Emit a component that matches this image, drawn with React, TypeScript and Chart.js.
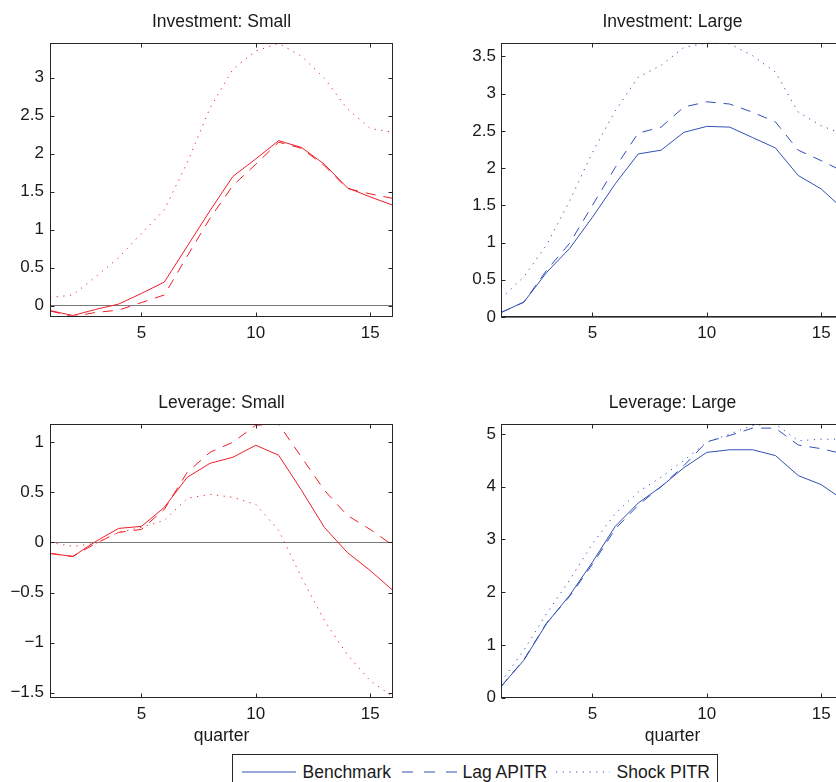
import React, { useEffect, useRef } from "react";
import { Chart, registerables } from "chart.js";

Chart.register(...registerables);

const quarters = [1, 2, 3, 4, 5, 6, 7, 8, 9, 10, 11, 12, 13, 14, 15, 16];
const xTicks = [5, 10, 15];

const invSmallBenchmark = [-0.065, -0.13, -0.05, 0.02, 0.16, 0.31, 0.78, 1.25, 1.7, 1.93, 2.17, 2.08, 1.86, 1.55, 1.43, 1.32];
const invSmallLag = [-0.07, -0.145, -0.09, -0.06, 0.04, 0.14, 0.65, 1.15, 1.58, 1.86, 2.15, 2.07, 1.84, 1.54, 1.47, 1.41];
const invSmallShock = [0.105, 0.14, 0.38, 0.63, 0.95, 1.26, 1.88, 2.6, 3.11, 3.35, 3.45, 3.28, 2.99, 2.59, 2.33, 2.28];

const invLargeBenchmark = [0.06, 0.2, 0.6, 0.92, 1.34, 1.79, 2.19, 2.24, 2.48, 2.56, 2.55, 2.41, 2.27, 1.9, 1.72, 1.44];
const invLargeLag = [0.06, 0.2, 0.63, 0.99, 1.5, 2.01, 2.47, 2.55, 2.82, 2.89, 2.86, 2.75, 2.62, 2.24, 2.1, 1.95];
const invLargeShock = [0.25, 0.54, 0.97, 1.56, 2.21, 2.77, 3.22, 3.38, 3.62, 3.68, 3.67, 3.51, 3.29, 2.75, 2.57, 2.45];

const levSmallBenchmark = [-0.11, -0.14, 0.01, 0.14, 0.16, 0.35, 0.65, 0.79, 0.85, 0.97, 0.87, 0.52, 0.15, -0.1, -0.28, -0.48];
const levSmallLag = [-0.11, -0.14, -0.01, 0.1, 0.13, 0.33, 0.7, 0.9, 1.0, 1.17, 1.18, 0.85, 0.52, 0.27, 0.13, -0.03];
const levSmallShock = [0.0, -0.04, -0.01, 0.1, 0.15, 0.22, 0.44, 0.48, 0.45, 0.38, 0.12, -0.35, -0.78, -1.12, -1.38, -1.54];

const levLargeBenchmark = [0.21, 0.71, 1.41, 1.94, 2.57, 3.25, 3.69, 4.0, 4.36, 4.65, 4.7, 4.7, 4.59, 4.21, 4.04, 3.74];
const levLargeLag = [0.21, 0.72, 1.42, 1.92, 2.53, 3.2, 3.65, 4.0, 4.4, 4.85, 4.97, 5.11, 5.11, 4.79, 4.72, 4.62];
const levLargeShock = [0.3, 0.9, 1.6, 2.23, 2.92, 3.49, 3.9, 4.18, 4.5, 4.84, 5.0, 5.16, 5.19, 4.87, 4.9, 4.9];

const seriesNames = ["Benchmark", "Lag APITR", "Shock PITR"];
const panelTitles = ["Investment: Small", "Investment: Large", "Leverage: Small", "Leverage: Large"];
const xAxisLabel = "quarter";

const invSmallRange = [-0.15, 3.46];
const invLargeRange = [0, 3.685];
const levSmallRange = [-1.55, 1.183];
const levLargeRange = [0, 5.19];
const yStepSizes = [0.5, 0.5, 0.5, 1];

const RED = "rgb(240,30,40)";
const BLUE = "rgb(50,80,180)";
const FONT = "Arial, 'Liberation Sans', Helvetica, sans-serif";
const TEXT = "#1a1a1a";
const FRAME = "#262626";
const DASH = [10, 8];
const DOT = [1.2, 5.5];

const fmt = (v: number) => (v < 0 ? "\u2212" + String(Math.abs(v)) : String(v));

const framePlugin = {
  id: "matlabFrame",
  afterDraw(chart: any) {
    const { ctx, chartArea } = chart;
    const { left, right, top, bottom } = chartArea;
    const xs = chart.scales.x;
    const ys = chart.scales.y;
    const L = Math.round(left) + 0.5;
    const R = Math.round(right) - 0.5;
    const T = Math.round(top) + 0.5;
    const B = Math.round(bottom) - 0.5;
    ctx.save();
    ctx.strokeStyle = FRAME;
    ctx.lineWidth = 1;
    ctx.beginPath();
    const tl = 4;
    xs.ticks.forEach((t: any) => {
      const px = Math.round(xs.getPixelForValue(t.value)) + 0.5;
      ctx.moveTo(px, B);
      ctx.lineTo(px, B - tl);
      ctx.moveTo(px, T);
      ctx.lineTo(px, T + tl);
    });
    ys.ticks.forEach((t: any) => {
      const py = Math.round(ys.getPixelForValue(t.value)) + 0.5;
      ctx.moveTo(L, py);
      ctx.lineTo(L + tl, py);
      ctx.moveTo(R, py);
      ctx.lineTo(R - tl, py);
    });
    ctx.stroke();
    ctx.strokeRect(L, T, R - L, B - T);
    ctx.restore();
  },
};

type Panel = {
  title: string;
  color: string;
  bench: number[];
  lag: number[];
  shock: number[];
  range: number[];
  step: number;
  titlePad: { top: number; bottom: number };
  xAxisHeight: number;
  showXTitle: boolean;
  yPad: number;
  left: number;
  top: number;
  width: number;
  height: number;
};

function pts(vals: number[]) {
  return quarters.map((q, i) => ({ x: q, y: vals[i] }));
}

function makeConfig(p: Panel): any {
  const ds = (vals: number[], dash: number[]) => ({
    data: pts(vals),
    borderColor: p.color,
    backgroundColor: p.color,
    borderWidth: 1,
    borderDash: dash,
    pointRadius: 0,
    tension: 0,
    fill: false,
  });
  return {
    type: "line",
    data: {
      datasets: [
        { label: seriesNames[0], ...ds(p.bench, []) },
        { label: seriesNames[1], ...ds(p.lag, DASH) },
        { label: seriesNames[2], ...ds(p.shock, DOT) },
      ],
    },
    options: {
      animation: false,
      responsive: false,
      maintainAspectRatio: false,
      devicePixelRatio: 1,
      layout: { padding: { left: 0, right: 17, top: 0, bottom: 0 } },
      plugins: {
        legend: { display: false },
        tooltip: { enabled: false },
        title: {
          display: true,
          fullSize: false,
          text: p.title,
          color: TEXT,
          font: { family: FONT, size: 17.5, weight: "normal", lineHeight: 1.2 },
          padding: p.titlePad,
        },
      },
      scales: {
        x: {
          type: "linear",
          min: 1,
          max: 16,
          afterBuildTicks: (s: any) => {
            s.ticks = xTicks.map((v) => ({ value: v }));
          },
          afterFit: (s: any) => {
            s.height = p.xAxisHeight;
          },
          grid: { display: false, drawTicks: false },
          border: { display: false },
          ticks: {
            padding: 6,
            color: TEXT,
            font: { family: FONT, size: 17, lineHeight: 1.2 },
            maxRotation: 0,
            autoSkip: false,
            callback: (v: any) => fmt(Number(v)),
          },
          title: {
            display: p.showXTitle,
            text: xAxisLabel,
            color: TEXT,
            padding: 0,
            font: { family: FONT, size: 17.5, lineHeight: 1.2 },
          },
        },
        y: {
          type: "linear",
          min: p.range[0],
          max: p.range[1],
          afterFit: (s: any) => {
            s.width = 50;
          },
          grid: {
            drawTicks: false,
            lineWidth: 1,
            color: (c: any) => (c.tick && c.tick.value === 0 ? "#7a7a7a" : "rgba(0,0,0,0)"),
          },
          border: { display: false },
          ticks: {
            stepSize: p.step,
            includeBounds: false,
            padding: p.yPad,
            autoSkip: false,
            color: TEXT,
            font: { family: FONT, size: 17, lineHeight: 1.2 },
            callback: (v: any) => fmt(Number(v)),
          },
        },
      },
    },
    plugins: [framePlugin],
  };
}

const panels: Panel[] = [
  {
    title: panelTitles[0], color: RED, bench: invSmallBenchmark, lag: invSmallLag, shock: invSmallShock,
    range: invSmallRange, step: yStepSizes[0], titlePad: { top: 11.5, bottom: 10.1 }, xAxisHeight: 43,
    showXTitle: false, yPad: 6, left: 0, top: 0, width: 410, height: 360,
  },
  {
    title: panelTitles[1], color: BLUE, bench: invLargeBenchmark, lag: invLargeLag, shock: invLargeShock,
    range: invLargeRange, step: yStepSizes[1], titlePad: { top: 11.5, bottom: 10.1 }, xAxisHeight: 43,
    showXTitle: false, yPad: 5, left: 451, top: 0, width: 410, height: 360,
  },
  {
    title: panelTitles[2], color: RED, bench: levSmallBenchmark, lag: levSmallLag, shock: levSmallShock,
    range: levSmallRange, step: yStepSizes[2], titlePad: { top: 13.1, bottom: 9.8 }, xAxisHeight: 49.3,
    showXTitle: true, yPad: 6, left: 0, top: 380, width: 410, height: 367,
  },
  {
    title: panelTitles[3], color: BLUE, bench: levLargeBenchmark, lag: levLargeLag, shock: levLargeShock,
    range: levLargeRange, step: yStepSizes[3], titlePad: { top: 13.1, bottom: 9.8 }, xAxisHeight: 49.3,
    showXTitle: true, yPad: 5, left: 451, top: 380, width: 410, height: 367,
  },
];

function PanelChart({ p }: { p: Panel }) {
  const ref = useRef<HTMLCanvasElement | null>(null);
  useEffect(() => {
    if (!ref.current) return;
    const chart = new Chart(ref.current, makeConfig(p));
    return () => chart.destroy();
  }, [p]);
  return (
    <canvas
      ref={ref}
      width={p.width}
      height={p.height}
      style={{ position: "absolute", left: p.left, top: p.top, width: p.width, height: p.height }}
    />
  );
}

function Legend() {
  const y = 18;
  const textY = 24;
  const fs = 17.5;
  return (
    <svg
      width={486}
      height={40}
      style={{ position: "absolute", left: 232, top: 754, overflow: "visible" }}
    >
      <rect x={0.5} y={0.5} width={485} height={45} fill="#ffffff" stroke={FRAME} strokeWidth={1} />
      <line x1={10} y1={y} x2={64} y2={y} stroke={BLUE} strokeWidth={1} />
      <text x={70.5} y={textY} fontFamily={FONT} fontSize={fs} fill={TEXT}>{seriesNames[0]}</text>
      <line x1={170} y1={y} x2={225} y2={y} stroke={BLUE} strokeWidth={1} strokeDasharray="11 11" />
      <text x={230.5} y={textY} fontFamily={FONT} fontSize={fs} fill={TEXT}>{seriesNames[1]}</text>
      <line x1={324} y1={y} x2={378} y2={y} stroke={BLUE} strokeWidth={1} strokeDasharray="1.2 5.5" />
      <text x={384.5} y={textY} fontFamily={FONT} fontSize={fs} fill={TEXT}>{seriesNames[2]}</text>
    </svg>
  );
}

export default function App() {
  return (
    <div
      style={{
        position: "fixed",
        left: 0,
        top: 0,
        width: 836,
        height: 782,
        overflow: "hidden",
        background: "#ffffff",
      }}
    >
      {panels.map((p, i) => (
        <PanelChart key={i} p={p} />
      ))}
      <Legend />
    </div>
  );
}
